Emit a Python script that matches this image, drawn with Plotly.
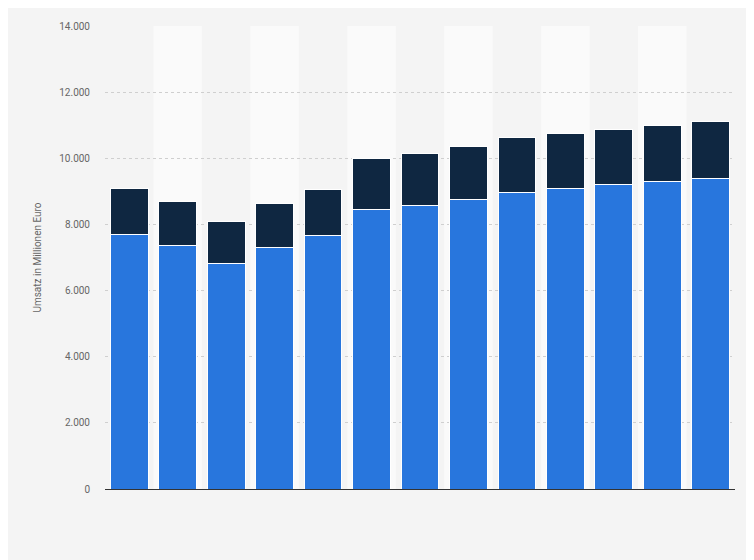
import plotly.graph_objects as go

categories = [str(i) for i in range(1, 14)]
blue_vals = [7690, 7355, 6808, 7295, 7660, 8450, 8571, 8754, 8967, 9088, 9210, 9300, 9392]
totals = [9088, 8693, 8085, 8632, 9058, 10000, 10152, 10365, 10638, 10760, 10881, 11003, 11125]
dark_vals = [t - b for t, b in zip(totals, blue_vals)]

fig = go.Figure()
fig.add_bar(x=categories, y=blue_vals, marker=dict(color="#2876dd", line=dict(color="white", width=1)), name="A")
fig.add_bar(x=categories, y=dark_vals, marker=dict(color="#0f2741", line=dict(color="white", width=1)), name="B")

shapes = []
for i in range(1, len(categories), 2):
    shapes.append(dict(type="rect", xref="x", yref="paper", x0=i - 0.5, x1=i + 0.5, y0=0, y1=1,
                       fillcolor="#fafafa", line=dict(width=0), layer="below"))

fig.update_layout(
    width=754, height=560, barmode="stack", bargap=0.22, showlegend=False,
    paper_bgcolor="#f4f4f4", plot_bgcolor="#f4f4f4", separators=",.",
    margin=dict(l=97, r=27, t=18, b=79), shapes=shapes,
    font=dict(family="Roboto, Arial, sans-serif", color="#666", size=10),
    xaxis=dict(showticklabels=False, showline=True, linecolor="#333", linewidth=1, ticks=""),
    yaxis=dict(range=[0, 14000], dtick=2000, tickformat=",d", showgrid=True,
               gridcolor="#cfcfcf", griddash="dot", zeroline=False,
               title=dict(text="Umsatz in Millionen Euro", font=dict(size=10, color="#666")),
               ticklabelstandoff=14),
)
fig.write_html("out.html")
